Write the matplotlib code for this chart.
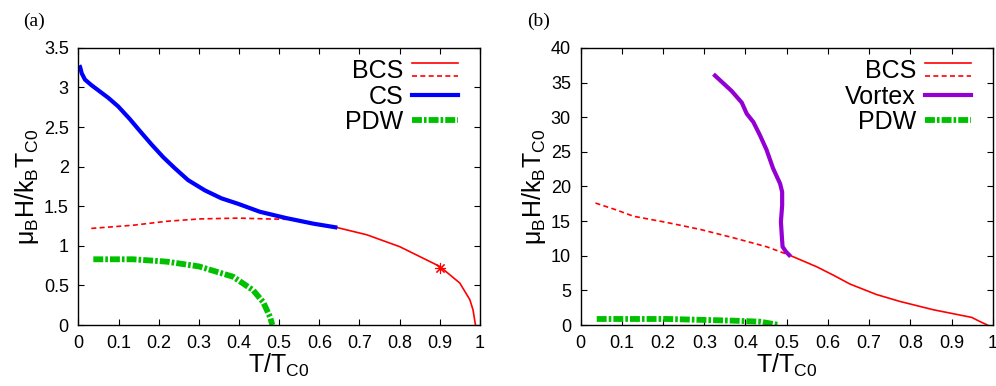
import numpy as np
import matplotlib
matplotlib.use('Agg')
import matplotlib.pyplot as plt
from matplotlib.lines import Line2D
from matplotlib.legend_handler import HandlerBase
from matplotlib.ticker import FuncFormatter, MultipleLocator

plt.rcParams['font.family'] = ['Liberation Sans', 'DejaVu Sans']
plt.rcParams['mathtext.default'] = 'regular'

# ---- panel (a) ----
cs_t = [0.002, 0.004, 0.008, 0.016, 0.032, 0.053, 0.074, 0.099, 0.128, 0.153, 0.182,
        0.211, 0.240, 0.273, 0.315, 0.356, 0.398, 0.452, 0.518, 0.585, 0.645]
cs_h = [3.28, 3.26, 3.18, 3.10, 3.03, 2.95, 2.87, 2.76, 2.60, 2.45, 2.28,
        2.12, 1.98, 1.83, 1.70, 1.60, 1.53, 1.43, 1.35, 1.28, 1.23]

bcs_a_dash_t = [0.032, 0.136, 0.22, 0.302, 0.40, 0.468, 0.52, 0.56]
bcs_a_dash_h = [1.22, 1.26, 1.31, 1.34, 1.35, 1.34, 1.335, 1.31]
bcs_a_t = [0.645, 0.718, 0.80, 0.90, 0.95, 0.975, 0.983, 0.989]
bcs_a_h = [1.23, 1.14, 0.99, 0.74, 0.53, 0.32, 0.19, 0.0]
star_t = [0.90]
star_h = [0.725]

pdw_a_t = [0.037, 0.136, 0.22, 0.30, 0.385, 0.435, 0.46, 0.477, 0.483]
pdw_a_h = [0.83, 0.83, 0.80, 0.74, 0.61, 0.44, 0.29, 0.105, 0.0]

# ---- panel (b) ----
vortex_t = [0.326, 0.346, 0.366, 0.391, 0.403, 0.419, 0.435, 0.451, 0.467, 0.484,
            0.489, 0.489, 0.486, 0.488, 0.490, 0.498, 0.506]
vortex_h = [36.0, 34.9, 33.8, 32.1, 30.5, 29.3, 27.4, 25.3, 22.6, 20.4,
            19.2, 17.3, 14.9, 13.0, 11.3, 10.6, 10.1]

bcs_b_dash_t = [0.036, 0.087, 0.128, 0.209, 0.29, 0.37, 0.451, 0.506]
bcs_b_dash_h = [17.6, 16.6, 15.7, 14.8, 13.8, 12.6, 11.3, 10.1]
bcs_b_t = [0.506, 0.573, 0.613, 0.654, 0.718, 0.775, 0.856, 0.949, 0.969, 0.987]
bcs_b_h = [10.1, 8.4, 7.2, 5.9, 4.4, 3.4, 2.2, 1.1, 0.5, 0.0]

pdw_b_t = [0.039, 0.209, 0.37, 0.435, 0.482]
pdw_b_h = [0.87, 0.87, 0.63, 0.48, 0.0]

red = '#ff0000'
blue = '#0000ff'
purple = '#9400d3'
green = '#00c000'
pdw_style = (0, (1.7, 0.35, 0.45, 0.35))


class HandlerBCS(HandlerBase):
    # two stacked samples (solid above dashed), gnuplot style
    def create_artists(self, legend, orig_handle, xdescent, ydescent,
                       width, height, fontsize, trans):
        x = [-xdescent, -xdescent + width]
        y1 = -ydescent + height * 0.85
        y2 = -ydescent + height * 0.15
        l1 = Line2D(x, [y1, y1], color=red, lw=1.2, transform=trans)
        l2 = Line2D(x, [y2, y2], color=red, lw=1.2, ls=(0, (3, 2)), transform=trans)
        return [l1, l2]


def style_axes(ax, ymax, ystep):
    ax.set_xlim(0, 1)
    ax.set_ylim(0, ymax)
    ax.xaxis.set_major_locator(MultipleLocator(0.1))
    ax.yaxis.set_major_locator(MultipleLocator(ystep))
    fmt = FuncFormatter(lambda v, p: '%g' % round(v, 3))
    ax.xaxis.set_major_formatter(fmt)
    ax.yaxis.set_major_formatter(fmt)
    ax.tick_params(direction='in', top=True, right=True, length=4, width=0.8,
                   labelsize=13, pad=7)
    for s in ax.spines.values():
        s.set_linewidth(1.0)
    ax.set_xlabel(r'$T/T_{C0}$', fontsize=18, labelpad=0)
    ax.set_ylabel(r'$\mu_B H/k_B T_{C0}$', fontsize=18, labelpad=2)


fig = plt.figure(figsize=(9.96, 3.86), dpi=100)
ax1 = fig.add_axes([0.0788, 0.158, 0.403, 0.718])
ax2 = fig.add_axes([0.583, 0.158, 0.4137, 0.718])

# (a)
ax1.plot(bcs_a_dash_t, bcs_a_dash_h, color=red, lw=1.2, ls=(0, (3, 2)))
ax1.plot(bcs_a_t, bcs_a_h, color=red, lw=1.2)
ax1.plot(cs_t, cs_h, color=blue, lw=3.0, solid_capstyle='butt')
ax1.plot(pdw_a_t, pdw_a_h, color=green, lw=4.2, ls=pdw_style, dash_capstyle='butt')
ax1.plot(star_t, star_h, ls='none', marker=(8, 2, 0), ms=8, mec=red, mew=0.8)
style_axes(ax1, 3.5, 0.5)

h_bcs = (Line2D([], [], color=red), Line2D([], [], color=red, ls='--'))
h_cs = Line2D([], [], color=blue, lw=3.0)
h_pdw = Line2D([], [], color=green, lw=4.2, ls=pdw_style)
leg_kw = dict(loc='upper right', bbox_to_anchor=(0.99, 1.022), frameon=False,
              fontsize=18, markerfirst=False,
              handlelength=1.85, handletextpad=0.35, labelspacing=0.05,
              borderaxespad=0.3, borderpad=0.4,
              handler_map={tuple: HandlerBCS()})
ax1.legend([h_bcs, h_cs, h_pdw], ['BCS', 'CS', 'PDW'], **leg_kw)

# (b)
ax2.plot(bcs_b_dash_t, bcs_b_dash_h, color=red, lw=1.2, ls=(0, (3, 2)))
ax2.plot(bcs_b_t, bcs_b_h, color=red, lw=1.2)
ax2.plot(vortex_t, vortex_h, color=purple, lw=3.0)
ax2.plot(pdw_b_t, pdw_b_h, color=green, lw=4.2, ls=pdw_style, dash_capstyle='butt')
style_axes(ax2, 40, 5)

h_vor = Line2D([], [], color=purple, lw=3.0)
ax2.legend([h_bcs, h_vor, h_pdw], ['BCS', 'Vortex', 'PDW'], **leg_kw)

fig.text(0.023, 1 - 21 / 386, '(a)', family='Liberation Serif', fontsize=14, va='center')
fig.text(0.529, 1 - 21 / 386, '(b)', family='Liberation Serif', fontsize=14, va='center')

fig.savefig('out.png', dpi=100)
